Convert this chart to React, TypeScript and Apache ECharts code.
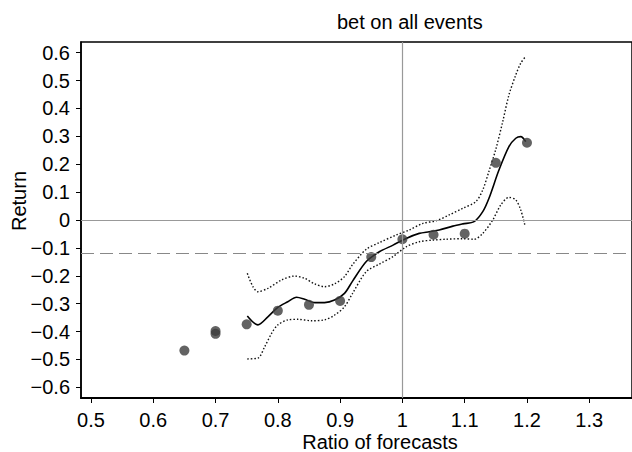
import React, { useEffect, useRef } from "react";
import * as echarts from "echarts";

const titleText = "bet on all events";
const xName = "Ratio of forecasts";
const yName = "Return";

const xTicks = [0.5, 0.6, 0.7, 0.8, 0.9, 1.0, 1.1, 1.2, 1.3];
const xTickLabels = ["0.5", "0.6", "0.7", "0.8", "0.9", "1", "1.1", "1.2", "1.3"];
const yTicks = [-0.6, -0.5, -0.4, -0.3, -0.2, -0.1, 0, 0.1, 0.2, 0.3, 0.4, 0.5, 0.6];
const yTickLabels = ["\u22120.6", "\u22120.5", "\u22120.4", "\u22120.3", "\u22120.2", "\u22120.1", "0", "0.1", "0.2", "0.3", "0.4", "0.5", "0.6"];

// observed points
const ptsX = [0.65, 0.70, 0.70, 0.75, 0.80, 0.85, 0.90, 0.95, 1.00, 1.05, 1.10, 1.15, 1.20];
const ptsY = [-0.468, -0.398, -0.408, -0.374, -0.325, -0.304, -0.290, -0.133, -0.069, -0.053, -0.049, 0.205, 0.277];

// fitted curve
const fitX = [0.751, 0.768, 0.784, 0.800, 0.816, 0.830, 0.843, 0.859, 0.875, 0.891, 0.907, 0.920, 0.942, 0.963, 0.985, 1.006, 1.027, 1.043, 1.059, 1.081, 1.097, 1.115, 1.129, 1.139, 1.155, 1.171, 1.182, 1.190, 1.198];
const fitY = [-0.344, -0.376, -0.347, -0.313, -0.293, -0.277, -0.284, -0.296, -0.296, -0.287, -0.263, -0.219, -0.149, -0.114, -0.090, -0.066, -0.048, -0.042, -0.036, -0.022, -0.014, -0.006, 0.030, 0.078, 0.179, 0.263, 0.293, 0.299, 0.281];

// upper confidence band
const upX = [0.751, 0.760, 0.768, 0.784, 0.806, 0.827, 0.843, 0.859, 0.875, 0.891, 0.907, 0.920, 0.942, 0.963, 0.990, 1.011, 1.033, 1.054, 1.075, 1.097, 1.118, 1.129, 1.139, 1.150, 1.161, 1.171, 1.182, 1.190, 1.198];
const upY = [-0.191, -0.239, -0.257, -0.245, -0.215, -0.201, -0.209, -0.229, -0.239, -0.229, -0.203, -0.160, -0.105, -0.081, -0.054, -0.036, -0.012, -0.003, 0.018, 0.042, 0.066, 0.108, 0.175, 0.254, 0.352, 0.448, 0.520, 0.562, 0.587];

// lower confidence band
const loX = [0.751, 0.768, 0.779, 0.790, 0.800, 0.816, 0.832, 0.854, 0.875, 0.891, 0.907, 0.920, 0.942, 0.963, 0.985, 1.006, 1.027, 1.049, 1.070, 1.097, 1.115, 1.129, 1.145, 1.158, 1.171, 1.182, 1.190, 1.197];
const loY = [-0.498, -0.495, -0.454, -0.406, -0.376, -0.358, -0.356, -0.361, -0.358, -0.341, -0.311, -0.263, -0.185, -0.158, -0.131, -0.096, -0.078, -0.072, -0.069, -0.067, -0.069, -0.048, 0.0, 0.054, 0.081, 0.072, 0.036, -0.022];

const refX = 1.0;
const refY = 0;
const meanReturn = -0.123;

const FONT = '"Liberation Sans", Arial, Helvetica, sans-serif';
const FS = 20;

function zip(xs: number[], ys: number[]) {
  return xs.map((x, i) => [x, ys[i]]);
}

function lookup(ticks: number[], labels: string[], v: number) {
  let best = 0;
  for (let i = 0; i < ticks.length; i++) {
    if (Math.abs(ticks[i] - v) < Math.abs(ticks[best] - v)) best = i;
  }
  return labels[best];
}

export default function App() {
  const ref = useRef<HTMLDivElement>(null);
  useEffect(() => {
    if (!ref.current) return;
    const chart = echarts.init(ref.current, undefined, { renderer: "svg" });
    const dotted = { color: "#111", width: 1.4, type: [1.5, 2] as any };
    chart.setOption({
      animation: false,
      backgroundColor: "#fff",
      grid: {
        left: 81,
        top: 42,
        right: -1,
        bottom: 54,
        show: true,
        borderColor: "#000",
        borderWidth: 1.5,
        containLabel: false,
      },
      xAxis: {
        type: "value",
        min: 0.484,
        max: 1.3686,
        axisLine: { show: true, onZero: false, lineStyle: { color: "#000", width: 2 } },
        axisTick: { show: true, customValues: xTicks, length: 5, lineStyle: { color: "#000", width: 1 } },
        axisLabel: {
          customValues: xTicks,
          margin: 13,
          fontSize: FS,
          lineHeight: 17,
          fontFamily: FONT,
          color: "#000",
          formatter: (v: number) => lookup(xTicks, xTickLabels, v),
        },
        splitLine: { show: false },
      },
      yAxis: {
        type: "value",
        min: -0.638,
        max: 0.638,
        axisLine: { show: true, onZero: false, lineStyle: { color: "#000", width: 1.5 } },
        axisTick: { show: true, customValues: yTicks, length: 5, lineStyle: { color: "#000", width: 1 } },
        axisLabel: {
          customValues: yTicks,
          margin: 11,
          fontSize: FS,
          fontFamily: FONT,
          color: "#000",
          formatter: (v: number) => lookup(yTicks, yTickLabels, v),
        },
        splitLine: { show: false },
      },
      graphic: [
        {
          type: "text",
          x: 337,
          y: 22,
          style: { text: titleText, font: `${FS}px ${FONT}`, fill: "#000", align: "left", verticalAlign: "middle" },
        },
        {
          type: "text",
          x: 380,
          y: 442,
          style: { text: xName, font: `${FS}px ${FONT}`, fill: "#000", align: "center", verticalAlign: "middle", lineHeight: 17 },
        },
        {
          type: "text",
          x: 19,
          y: 201,
          rotation: Math.PI / 2,
          style: { text: yName, font: `${FS}px ${FONT}`, fill: "#000", align: "center", verticalAlign: "middle" },
        },
      ],
      series: [
        {
          type: "line",
          data: [],
          z: 1,
          silent: true,
          markLine: {
            silent: true,
            symbol: "none",
            label: { show: false },
            lineStyle: { color: "#999", width: 1.2, type: "solid" },
            data: [
              { xAxis: refX },
              { yAxis: refY },
              { yAxis: meanReturn, lineStyle: { color: "#888", width: 1.2, type: [13, 6] } },
            ],
          },
        },
        {
          type: "line",
          data: zip(upX, upY),
          smooth: 0.3,
          showSymbol: false,
          z: 2,
          lineStyle: dotted,
        },
        {
          type: "line",
          data: zip(loX, loY),
          smooth: 0.3,
          showSymbol: false,
          z: 2,
          lineStyle: dotted,
        },
        {
          type: "line",
          data: zip(fitX, fitY),
          smooth: 0.3,
          showSymbol: false,
          z: 3,
          lineStyle: { color: "#000", width: 1.6, type: "solid" },
        },
        {
          type: "scatter",
          data: zip(ptsX, ptsY),
          symbolSize: 10,
          z: 4,
          itemStyle: { color: "#3c3c3c" },
        },
      ],
    });
    return () => chart.dispose();
  }, []);
  return <div ref={ref} style={{ position: "fixed", left: 0, top: 0, width: 632, height: 452 }} />;
}
